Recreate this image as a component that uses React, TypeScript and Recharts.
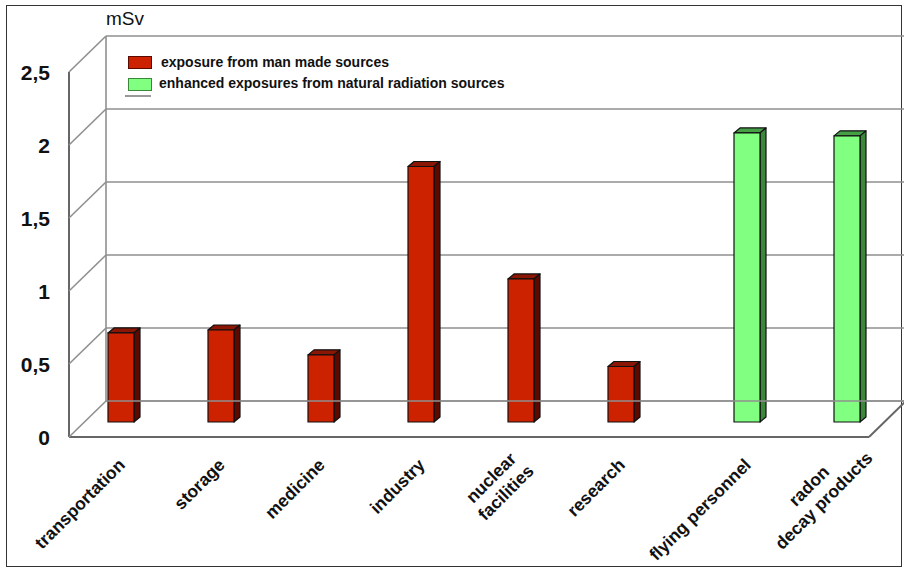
import { BarChart, Bar, XAxis, YAxis, CartesianGrid, ReferenceLine, Legend } from "recharts";

const categories = [
  "transportation",
  "storage",
  "medicine",
  "industry",
  "nuclear\nfacilities",
  "research",
  "flying personnel",
  "radon\ndecay products",
];
const manMade = [0.61, 0.63, 0.46, 1.75, 0.98, 0.38, null, null];
const natural = [null, null, null, null, null, null, 1.98, 1.96];
const yTicks = [0, 0.5, 1, 1.5, 2, 2.5];
const MAN_NAME = "exposure from man made sources";
const NAT_NAME = "enhanced exposures from natural radiation sources";
const legendOrder = [MAN_NAME, NAT_NAME];

const data = categories.map((cat, i) => ({ cat, man: manMade[i], nat: natural[i] }));

// fake 3D: the plot area is the back wall, the front edge sits down-left of it
const PLOT_LEFT = 106;
const DEPTH_X = 37;
const DEPTH_Y = 36;
const BAR_DX = -22; // bars stand about mid-depth
const BAR_DY = 21;
const BAR_SIZE = 26;
const CAP_X = 6;
const CAP_Y = 5;
const FONT = '"Liberation Sans", Arial, Helvetica, sans-serif';
const WALL = "#8f8f8f";
const EDGE = "#666";

let ctx: CanvasRenderingContext2D | null = null;
function textWidth(s: string, font: string) {
  if (!ctx) ctx = document.createElement("canvas").getContext("2d");
  if (!ctx) return s.length * 9;
  ctx.font = font;
  return ctx.measureText(s).width;
}

function makeBox(front: string, top: string, side: string) {
  return (props: any) => {
    const { x, y, width, height } = props;
    if (!height || height <= 0) return <g />;
    const fx = x + BAR_DX;
    const fy = y + BAR_DY;
    const r = fx + width;
    const b = fy + height;
    return (
      <g stroke="#111" strokeWidth={1.2} strokeLinejoin="round">
        <polygon points={`${fx},${fy} ${fx + CAP_X},${fy - CAP_Y} ${r + CAP_X},${fy - CAP_Y} ${r},${fy}`} fill={top} />
        <polygon points={`${r},${fy} ${r + CAP_X},${fy - CAP_Y} ${r + CAP_X},${b - CAP_Y} ${r},${b}`} fill={side} />
        <rect x={fx} y={fy} width={width} height={height} fill={front} />
      </g>
    );
  };
}

const RedBox = makeBox("#cc2200", "#8a1606", "#5c0900");
const GreenBox = makeBox("#80ff80", "#45a045", "#3b883b");

function ValueTick({ y, payload }: any) {
  const fy = y + DEPTH_Y;
  return (
    <g>
      <line x1={PLOT_LEFT} y1={y} x2={PLOT_LEFT - DEPTH_X} y2={fy} stroke={WALL} strokeWidth={1.6} />
      <text x={50} y={fy + 8} textAnchor="end" fontFamily={FONT} fontWeight="bold" fontSize={21} fill="#111">
        {String(payload.value).replace(".", ",")}
      </text>
    </g>
  );
}

function CatTick({ x, payload }: any) {
  const row = data.find((d) => d.cat === payload.value);
  const half = BAR_SIZE / 2;
  const barCenter = x + (row && row.man != null ? -half : half) + BAR_DX;
  const lines = String(payload.value).split("\n");
  const font = `bold 17.5px ${FONT}`;
  const widths = lines.map((l) => textWidth(l, font));
  const meanW = widths.reduce((a, b) => a + b, 0) / widths.length;
  const ax = barCenter + 5;
  const ay = 466;
  const lh = 21;
  return (
    <text
      transform={`rotate(-45 ${ax} ${ay})`}
      textAnchor="middle"
      fontFamily={FONT}
      fontWeight="bold"
      fontSize={17.5}
      fill="#111"
    >
      {lines.map((l, i) => (
        <tspan key={i} x={ax - meanW / 2} y={ay + (i - (lines.length - 1) / 2) * lh}>
          {l}
        </tspan>
      ))}
    </text>
  );
}

function Floor(props: any) {
  const { x1, y1, x2 } = props;
  const fy = y1 + DEPTH_Y;
  return (
    <g stroke={EDGE} strokeWidth={2} fill="none">
      <line x1={x1 - DEPTH_X} y1={fy} x2={x2 - DEPTH_X} y2={fy} />
      <line x1={x2 - DEPTH_X} y1={fy} x2={x2} y2={y1} />
    </g>
  );
}

function FrontAxis(props: any) {
  const { y1, y2 } = props;
  const fx = PLOT_LEFT - DEPTH_X;
  return <line x1={fx} y1={y1 + DEPTH_Y} x2={fx} y2={y2 + DEPTH_Y} stroke={EDGE} strokeWidth={2} />;
}

function LegendBox({ payload }: any) {
  const swatch: Record<string, string> = { [MAN_NAME]: "#5c0900", [NAT_NAME]: "#3b883b" };
  const items = [...(payload || [])].sort((a: any, b: any) => legendOrder.indexOf(a.value) - legendOrder.indexOf(b.value));
  return (
    <div style={{ position: "relative", width: 420, height: 50, fontFamily: FONT, fontWeight: "bold", fontSize: 14, color: "#111" }}>
      {items.map((p: any, i: number) => (
        <div key={p.value}>
          <div
            style={{
              position: "absolute",
              left: 4,
              top: 4 + i * 22,
              width: 22,
              height: 11,
              background: p.color,
              border: `1px solid ${swatch[p.value] || "#333"}`,
            }}
          />
          <div style={{ position: "absolute", left: 37 - i * 2, top: 2 + i * 21, lineHeight: "16px", whiteSpace: "nowrap" }}>
            {p.value}
          </div>
        </div>
      ))}
      <div style={{ position: "absolute", left: 1, top: 43, width: 26, height: 1.5, background: "#999" }} />
    </div>
  );
}

export default function App() {
  return (
    <div style={{ position: "absolute", left: 0, top: 0, width: 904, height: 568, overflow: "hidden", background: "#fff" }}>
      <div
        style={{
          position: "absolute",
          left: 6,
          top: 5,
          width: 894,
          height: 560,
          border: "1.5px solid #333",
        }}
      />
      <BarChart
        width={906}
        height={568}
        data={data}
        margin={{ top: 36, right: 0, bottom: 67, left: 46 }}
        barGap={0}
        barSize={BAR_SIZE}
      >
        <CartesianGrid vertical={false} stroke={WALL} strokeWidth={1.6} />
        <XAxis
          dataKey="cat"
          height={100}
          interval={0}
          tickLine={false}
          axisLine={{ stroke: WALL, strokeWidth: 1.6 }}
          tick={<CatTick />}
        />
        <YAxis
          width={60}
          domain={[0, 2.5]}
          ticks={yTicks}
          tickLine={false}
          axisLine={{ stroke: WALL, strokeWidth: 1.6 }}
          tick={<ValueTick />}
          label={() => (
            <text x={106} y={25} fontFamily={FONT} fontSize={19} fill="#111">
              mSv
            </text>
          )}
        />
        <ReferenceLine y={0} ifOverflow="visible" shape={<Floor />} />
        <ReferenceLine
          segment={[
            { x: categories[0], y: 0 },
            { x: categories[0], y: 2.5 },
          ]}
          ifOverflow="visible"
          shape={<FrontAxis />}
        />
        <Legend
          layout="horizontal"
          verticalAlign="middle"
          align="center"
          wrapperStyle={{ left: 124, top: 52, width: 420, height: 50 }}
          content={<LegendBox />}
        />
        <Bar dataKey="man" name={MAN_NAME} fill="#cc2200" shape={RedBox} isAnimationActive={false} />
        <Bar dataKey="nat" name={NAT_NAME} fill="#80ff80" shape={GreenBox} isAnimationActive={false} />
      </BarChart>
    </div>
  );
}
